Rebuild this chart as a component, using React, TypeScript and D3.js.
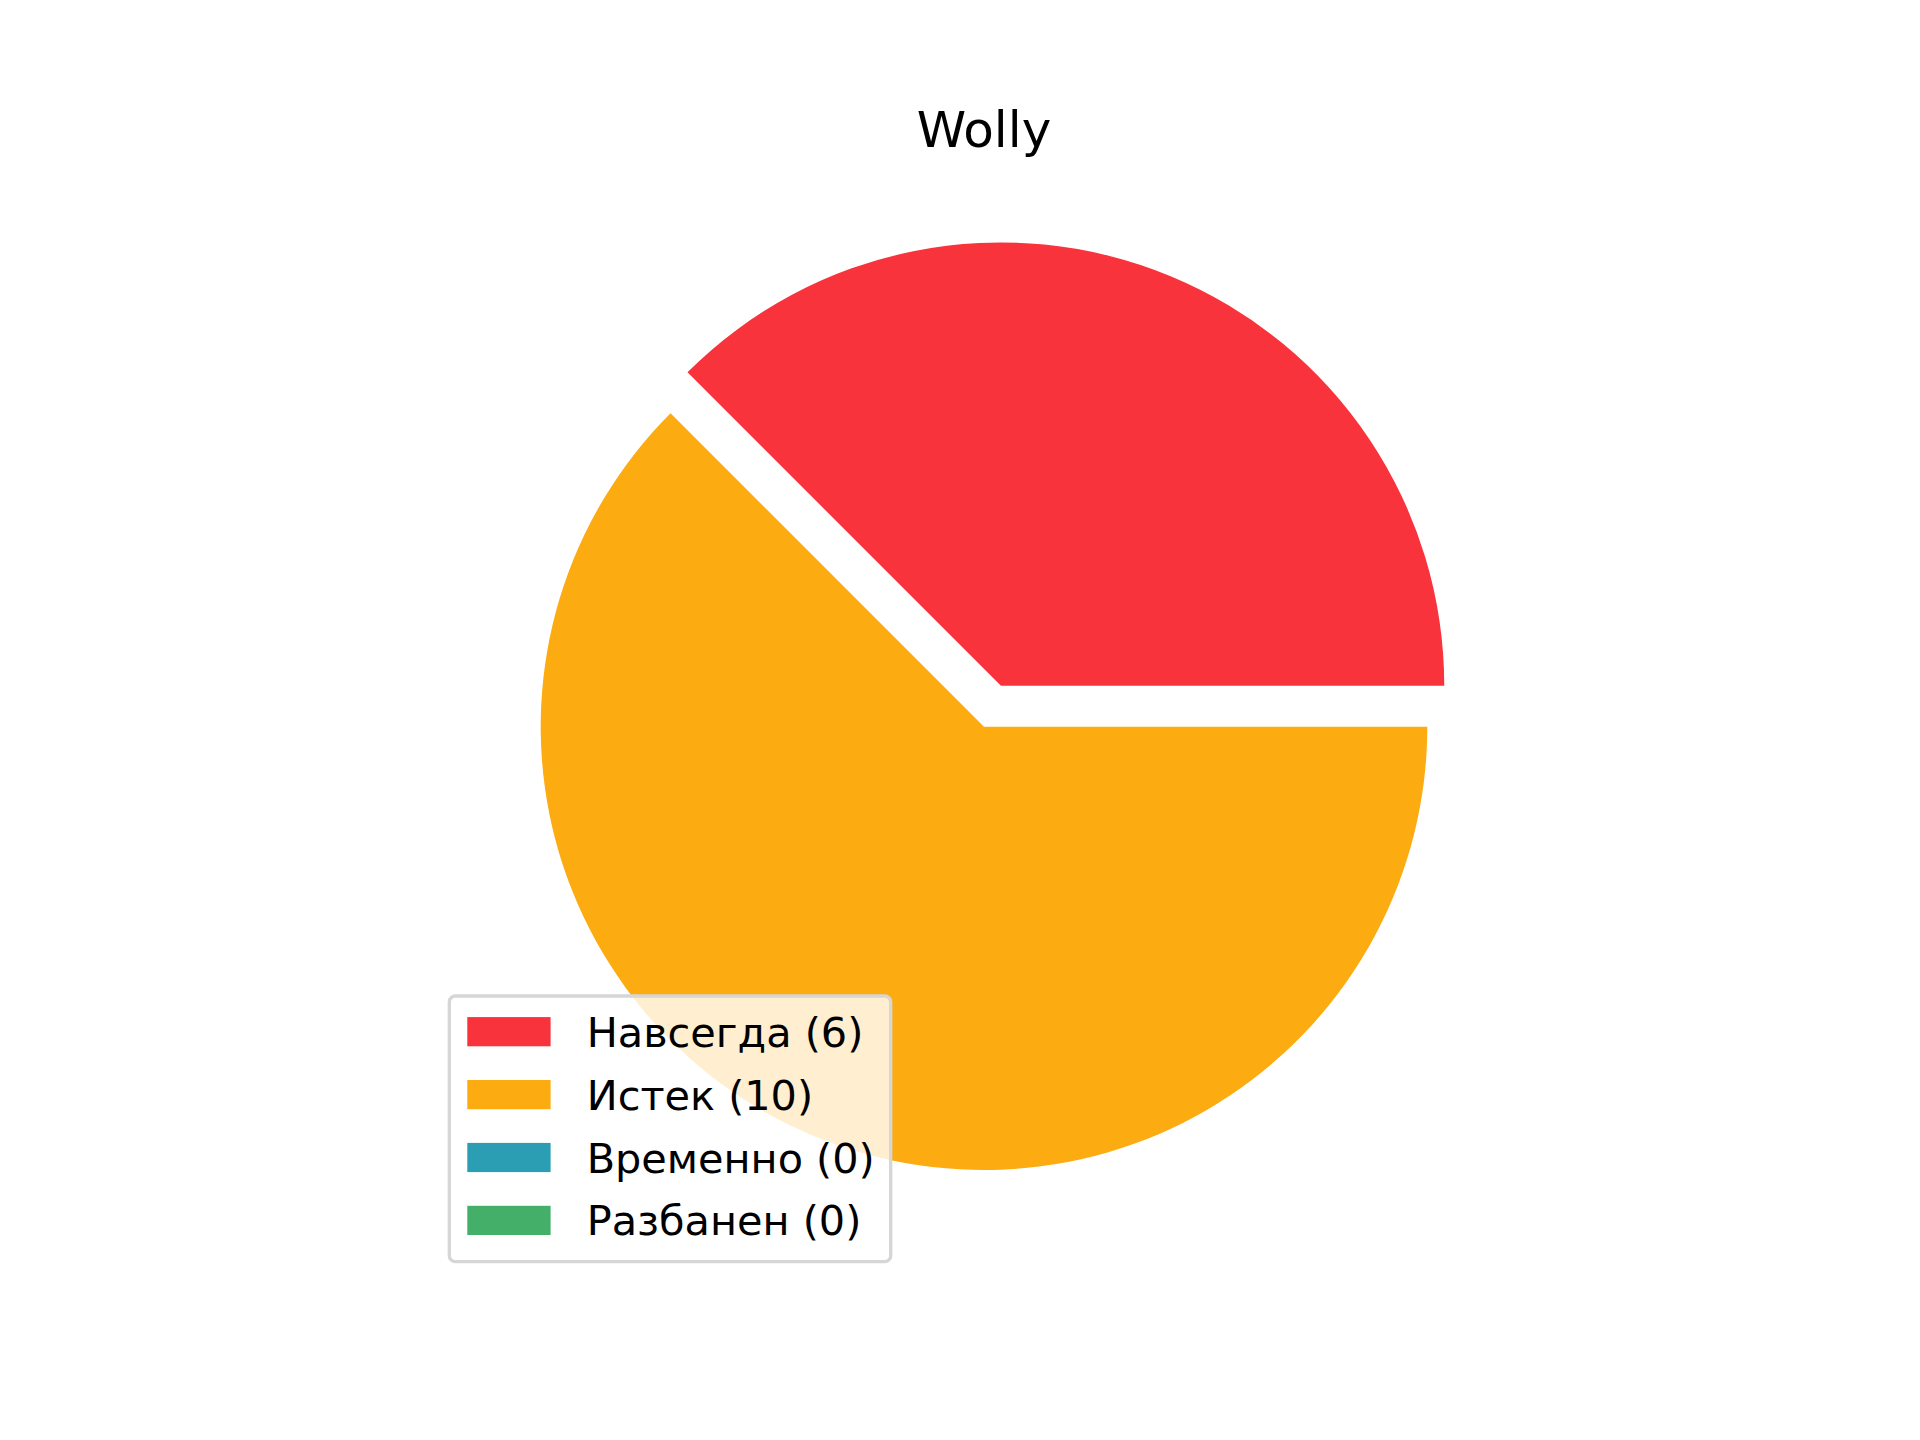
import React, { useRef, useEffect } from "react";
import * as d3 from "d3";

const title = "Wolly";
const labels = ["Навсегда", "Истек", "Временно", "Разбанен"];
const counts = [6, 10, 0, 0];
const colors = ["#F8333C", "#FCAB10", "#2B9EB3", "#44AF69"];
const explode = [0.1, 0, 0, 0];

export default function App() {
  const ref = useRef<HTMLDivElement>(null);

  useEffect(() => {
    if (!ref.current) return;
    ref.current.innerHTML = "";
    document.body.style.margin = "0";

    const w = 1920;
    const h = 1440;
    const cx = 984;
    const cy = 726.7;
    const r = 443.3;
    const font = "DejaVu Sans, sans-serif";

    const svg = d3.select(ref.current)
      .append("svg")
      .attr("width", w)
      .attr("height", h)
      .style("display", "block")
      .style("background", "#fff");

    svg.append("text")
      .attr("x", cx)
      .attr("y", 146.5)
      .attr("text-anchor", "middle")
      .style("font-family", font)
      .style("font-size", "50px")
      .attr("fill", "#000")
      .text(title);

    const rows = labels.map((l, i) => ({ label: l, value: counts[i], color: colors[i], explode: explode[i] }));

    // matplotlib style: start at 3 o'clock, go counterclockwise
    const pie = d3.pie<typeof rows[number]>()
      .value(d => d.value)
      .sort(null)
      .startAngle(Math.PI / 2)
      .endAngle(Math.PI / 2 - 2 * Math.PI);

    const arc = d3.arc<d3.PieArcDatum<typeof rows[number]>>()
      .innerRadius(0)
      .outerRadius(r);

    const g = svg.append("g").attr("transform", `translate(${cx},${cy})`);
    pie(rows).forEach(a => {
      if (a.data.value === 0) return;
      const mid = (a.startAngle + a.endAngle) / 2;
      const off = a.data.explode * r;
      g.append("path")
        .attr("d", arc(a) as string)
        .attr("fill", a.data.color)
        .attr("transform", `translate(${off * Math.sin(mid)},${-off * Math.cos(mid)})`);
    });

    // legend, lower left
    const lg = svg.append("g").attr("transform", "translate(449.3,996)");
    lg.append("rect")
      .attr("x", 0)
      .attr("y", 0)
      .attr("width", 441.4)
      .attr("height", 265.7)
      .attr("rx", 6)
      .attr("ry", 6)
      .attr("fill", "rgba(255,255,255,0.8)")
      .attr("stroke", "#d6d6d6")
      .attr("stroke-width", 3.3);

    rows.forEach((d, i) => {
      const yc = 35.7 + i * 62.9;
      lg.append("rect")
        .attr("x", 18)
        .attr("y", yc - 14.6)
        .attr("width", 83.3)
        .attr("height", 29.2)
        .attr("fill", d.color);
      lg.append("text")
        .attr("x", 137.4)
        .attr("y", yc + 15)
        .style("font-family", font)
        .style("font-size", "41.4px")
        .attr("fill", "#000")
        .text(`${d.label} (${d.value})`);
    });
  }, []);

  return <div ref={ref} />;
}
